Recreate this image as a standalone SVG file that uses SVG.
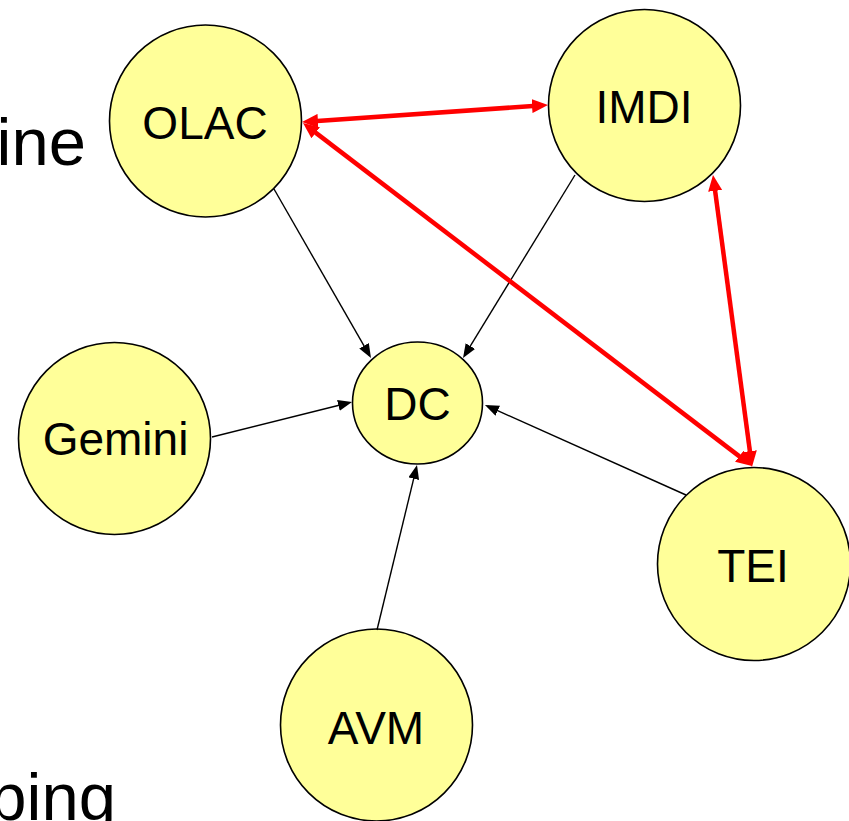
<svg xmlns="http://www.w3.org/2000/svg" width="849" height="821" viewBox="0 0 849 821">
<style>
.node{fill:#FFFF99;stroke:#000;stroke-width:1.6}
.lbl{font-family:"Liberation Sans",Arial,sans-serif;font-size:46px;fill:#000;text-anchor:middle}
.bg{font-family:"Liberation Sans",Arial,sans-serif;font-size:67px;fill:#000;text-anchor:end}
.blk{stroke:#000;stroke-width:1.4;fill:none;marker-end:url(#ab)}
.red{stroke:#FF0000;stroke-width:4.5;fill:none;marker-start:url(#ar);marker-end:url(#ar)}
</style>
<defs>
<marker id="ab" markerUnits="userSpaceOnUse" markerWidth="14" markerHeight="11" refX="11" refY="5.5" orient="auto"><path d="M0,0 L14,5.5 L0,11 z" fill="#000"/></marker>
<marker id="ar" markerUnits="userSpaceOnUse" markerWidth="16" markerHeight="14" refX="8" refY="7" orient="auto-start-reverse"><path d="M0,0 L16,7 L0,14 z" fill="#FF0000"/></marker>
</defs>
<text class="bg" x="86" y="165">ine</text>
<text class="bg" x="116" y="820">ping</text>
<g id="OLAC"><circle class="node" cx="205.5" cy="121" r="96"/><text class="lbl" x="205" y="139">OLAC</text></g>
<g id="IMDI"><circle class="node" cx="644.5" cy="105.5" r="96"/><text class="lbl" x="644" y="123">IMDI</text></g>
<g id="Gemini"><circle class="node" cx="114.5" cy="438.5" r="96"/><text class="lbl" x="115.5" y="455">Gemini</text></g>
<g id="DC"><ellipse class="node" cx="417.5" cy="403" rx="65" ry="61"/><text class="lbl" x="417.5" y="420">DC</text></g>
<g id="TEI"><circle class="node" cx="754" cy="564" r="96.5"/><text class="lbl" x="753" y="582">TEI</text></g>
<g id="AVM"><circle class="node" cx="376.5" cy="725" r="96"/><text class="lbl" x="376" y="744">AVM</text></g>
<g id="connectors">
<line class="blk" x1="274" y1="189" x2="369.5" y2="355.4"/>
<line class="blk" x1="575" y1="175" x2="464.6" y2="355.4"/>
<line class="blk" x1="212" y1="437" x2="349.1" y2="402.7"/>
<line class="blk" x1="686" y1="495" x2="487.7" y2="406.2"/>
<line class="blk" x1="377" y1="630" x2="416.3" y2="467.9"/>
<line class="red" x1="310" y1="121.45" x2="540" y2="105.55"/>
<line class="red" x1="309.36" y1="127.86" x2="745.64" y2="461.14"/>
<line class="red" x1="714.06" y1="182.93" x2="750.94" y2="459.07"/>
</g>
</svg>
